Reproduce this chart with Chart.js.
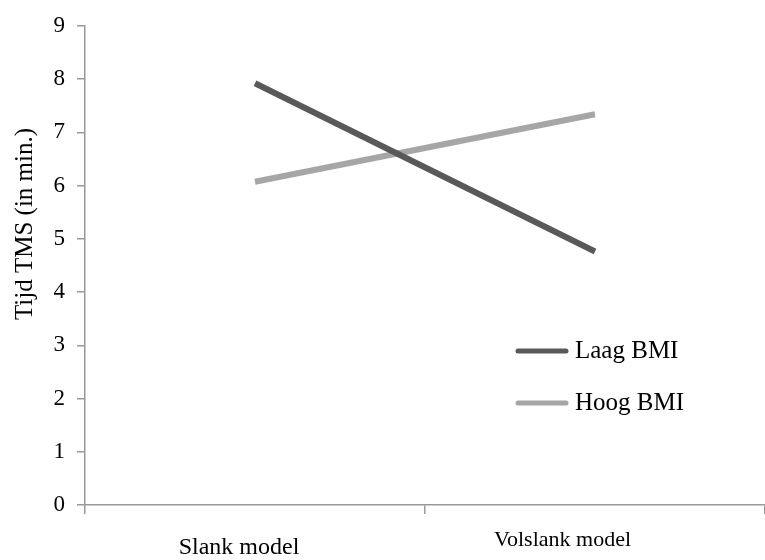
<!DOCTYPE html>
<html>
<head>
<meta charset="utf-8">
<script src="https://cdn.jsdelivr.net/npm/chart.js@4/dist/chart.umd.min.js"></script>
<style>
  html, body { margin: 0; padding: 0; background: #fff; }
  #wrap { width: 765px; height: 560px; }
</style>
</head>
<body>
<div id="wrap"><canvas id="tmsChart" width="765" height="560"></canvas></div>
<script>
// Data
const categories = ["Slank model", "Volslank model"];
const laagBmi = [7.92, 4.76];
const hoogBmi = [6.07, 7.34];
const yTicks = [0, 1, 2, 3, 4, 5, 6, 7, 8, 9];

const serif = "'Liberation Serif', 'Times New Roman', serif";
const axisGrey = "#999999";

// Draws the y title and the legend box inside the plot
const extras = {
  id: "extras",
  afterDraw(chart) {
    const ctx = chart.ctx;
    ctx.save();
    ctx.fillStyle = "#000";
    ctx.font = "25px " + serif;
    ctx.textAlign = "center";
    ctx.textBaseline = "middle";
    ctx.translate(25, 224);
    ctx.rotate(-Math.PI / 2);
    ctx.fillText("Tijd TMS (in min.)", 0, 0);
    ctx.restore();

    ctx.save();
    chart.data.datasets.forEach((ds, i) => {
      const y = 351 + i * 52;
      ctx.strokeStyle = ds.borderColor;
      ctx.lineWidth = 5;
      ctx.lineCap = "round";
      ctx.beginPath();
      ctx.moveTo(518, y);
      ctx.lineTo(566, y);
      ctx.stroke();
      ctx.fillStyle = "#000";
      ctx.font = "25px " + serif;
      ctx.textAlign = "left";
      ctx.textBaseline = "middle";
      ctx.fillText(ds.label, 575, y);
    });
    ctx.restore();
  }
};

new Chart(document.getElementById("tmsChart"), {
  type: "line",
  data: {
    labels: categories,
    datasets: [
      {
        label: "Laag BMI",
        data: laagBmi,
        borderColor: "#595959",
        borderWidth: 6,
        pointRadius: 0,
        tension: 0
      },
      {
        label: "Hoog BMI",
        data: hoogBmi,
        borderColor: "#a6a6a6",
        borderWidth: 6,
        pointRadius: 0,
        tension: 0
      }
    ]
  },
  options: {
    responsive: false,
    animation: false,
    layout: { padding: { top: 19, left: 0, right: 0, bottom: 0 } },
    plugins: {
      legend: { display: false },
      tooltip: { enabled: false }
    },
    scales: {
      x: {
        offset: true,
        grid: {
          offset: true,
          drawOnChartArea: false,
          tickLength: 9,
          color: axisGrey,
          lineWidth: 1.5
        },
        border: { color: axisGrey, width: 1.5 },
        ticks: {
          color: "#000",
          padding: 10,
          labelOffset: -16,
          // the second label sits further left in the original
          callback: (v, i) => i === 1 ? categories[i] + "\u00a0\u00a0\u00a0\u00a0\u00a0\u00a0" : categories[i],
          font: (c) => ({
            family: serif,
            size: c.index === 0 ? 24 : 22,
            lineHeight: c.index === 0 ? "48px" : "32px"
          })
        },
        afterFit: (s) => { s.height = 55; }
      },
      y: {
        min: 0,
        max: 9,
        afterBuildTicks: (s) => { s.ticks = yTicks.map((v) => ({ value: v })); },
        grid: {
          drawOnChartArea: false,
          tickLength: 8,
          color: axisGrey,
          lineWidth: 1.5
        },
        border: { color: axisGrey, width: 1.5 },
        ticks: {
          color: "#000",
          padding: 12,
          font: { family: serif, size: 23 }
        },
        afterFit: (s) => { s.width = 85; }
      }
    }
  },
  plugins: [extras]
});
</script>
</body>
</html>
